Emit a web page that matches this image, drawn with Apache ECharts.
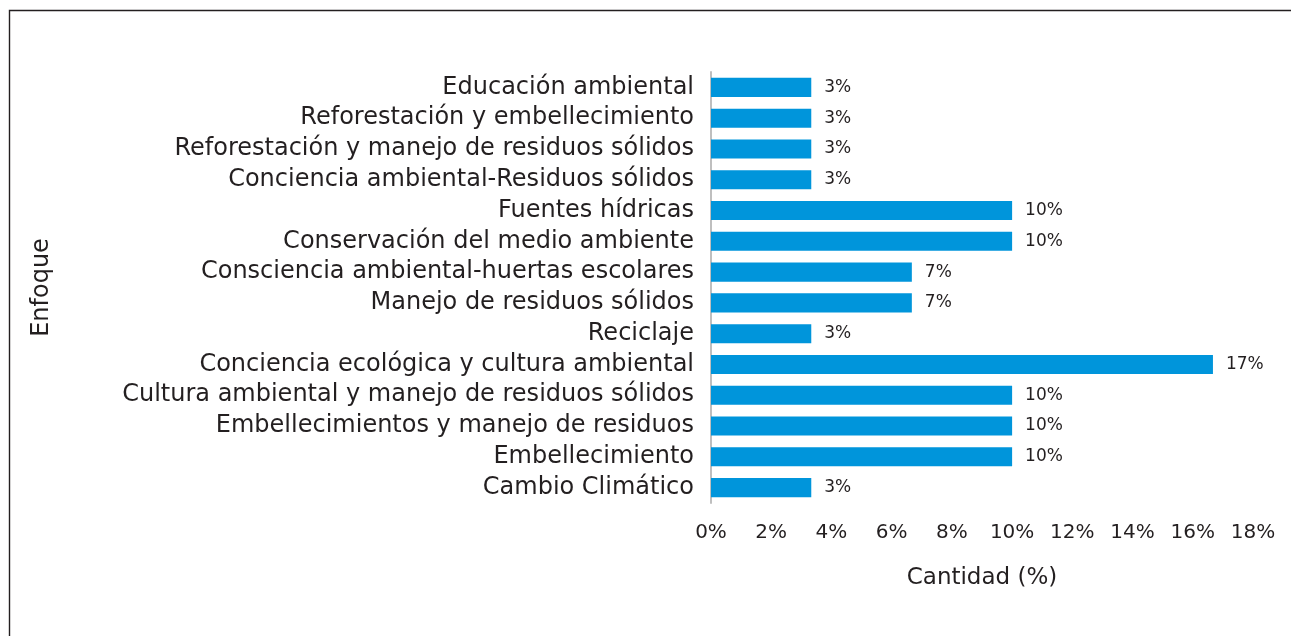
<!DOCTYPE html>
<html><head><meta charset="utf-8">
<script src="https://cdn.jsdelivr.net/npm/echarts@6/dist/echarts.min.js"></script>
<style>html,body{margin:0;padding:0;background:#fff}#c{width:1291px;height:636px}</style>
</head><body><div id="c"></div>
<script>
var categories = [
  "Educación ambiental",
  "Reforestación y embellecimiento",
  "Reforestación y manejo de residuos sólidos",
  "Conciencia ambiental-Residuos sólidos",
  "Fuentes hídricas",
  "Conservación del medio ambiente",
  "Consciencia ambiental-huertas escolares",
  "Manejo de residuos sólidos",
  "Reciclaje",
  "Conciencia ecológica y cultura ambiental",
  "Cultura ambiental y manejo de residuos sólidos",
  "Embellecimientos y manejo de residuos",
  "Embellecimiento",
  "Cambio Climático"
];
var values = [3.33, 3.33, 3.33, 3.33, 10, 10, 6.67, 6.67, 3.33, 16.67, 10, 10, 10, 3.33];
var xTicks = [0, 2, 4, 6, 8, 10, 12, 14, 16, 18];

var font = "'DejaVu Sans', sans-serif";
var txt = '#231f20';
var chart = echarts.init(document.getElementById('c'));
chart.setOption({
  animation: false,
  graphic: [{
    type: 'rect', left: 7, top: 8,
    shape: { width: 1400, height: 700 },
    style: { fill: 'none', stroke: '#231f20', lineWidth: 1.4 }
  }],
  grid: { left: 711, right: 38, top: 72, bottom: 133, containLabel: false },
  xAxis: {
    type: 'value', min: 0, max: 18, interval: 2,
    name: 'Cantidad (%)', nameLocation: 'middle', nameGap: 64,
    nameTextStyle: { color: txt, fontSize: 23, fontFamily: font },
    axisLine: { show: false }, axisTick: { show: false },
    splitLine: { show: false },
    axisLabel: { color: txt, fontSize: 20, fontFamily: font, margin: 20,
      formatter: function (v) { return xTicks.indexOf(v) >= 0 ? v + '%' : ''; } }
  },
  yAxis: {
    type: 'category', data: categories, inverse: true,
    name: 'Enfoque', nameLocation: 'middle', nameRotate: 90, nameGap: 657,
    nameTextStyle: { color: txt, fontSize: 24, fontFamily: font },
    axisLine: { show: true, lineStyle: { color: '#bfbfbf', width: 2 } },
    axisTick: { show: false },
    axisLabel: { color: txt, fontSize: 24, fontFamily: font, margin: 17, interval: 0 }
  },
  series: [{
    type: 'bar', data: values, barWidth: '62%',
    itemStyle: { color: '#0095db' },
    label: { show: true, position: 'right', distance: 13, color: txt,
      fontSize: 17, fontFamily: font,
      formatter: function (p) { return Math.round(p.value) + '%'; } }
  }]
});
</script></body></html>
